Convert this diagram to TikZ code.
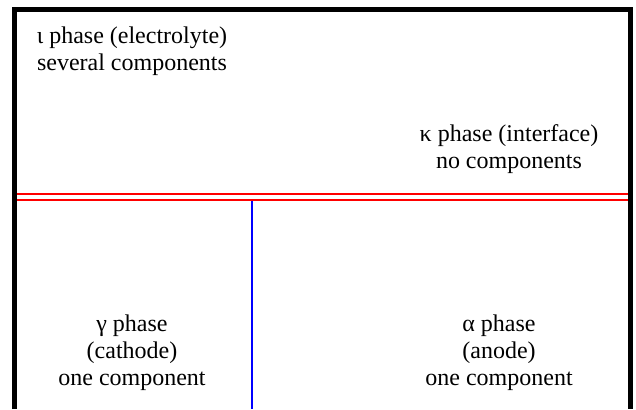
\documentclass[tikz,border=0pt]{standalone}
\usepackage{fontspec}
\setmainfont{Liberation Serif}
\begin{document}
\begin{tikzpicture}[x=1pt,y=-1pt,
  lbl/.style={align=center,font=\fontsize{24}{27}\selectfont,inner sep=0pt},
  frame/.style={line width=5pt,black},
  iface/.style={red,line width=2pt},
  sep/.style={blue,line width=2pt}]
\useasboundingbox[fill=white] (0,0) rectangle (636,409);
\coordinate (tl) at (14.5,9.5);
\coordinate (tr) at (630,9.5);
\coordinate (bl) at (14.5,409);
\coordinate (br) at (630,409);
\draw[frame] (bl) -- (tl) -- (tr) -- (br);
\coordinate (r1l) at (17,194);
\coordinate (r1r) at (628,194);
\coordinate (r2l) at (17,199.5);
\coordinate (r2r) at (628,199.5);
\draw[iface] (r1l) -- (r1r);
\draw[iface] (r2l) -- (r2r);
\coordinate (bt) at (252,200.5);
\coordinate (bb) at (252,409);
\draw[sep] (bt) -- (bb);
\node[lbl] (iota) at (132,51) {ι phase (electrolyte)\\several components};
\node[lbl] (kappa) at (509,149.5) {κ phase (interface)\\no components};
\node[lbl] (gamma) at (132,353) {γ phase\\(cathode)\\one component};
\node[lbl] (alpha) at (499,353) {α phase\\(anode)\\one component};
\end{tikzpicture}
\end{document}
